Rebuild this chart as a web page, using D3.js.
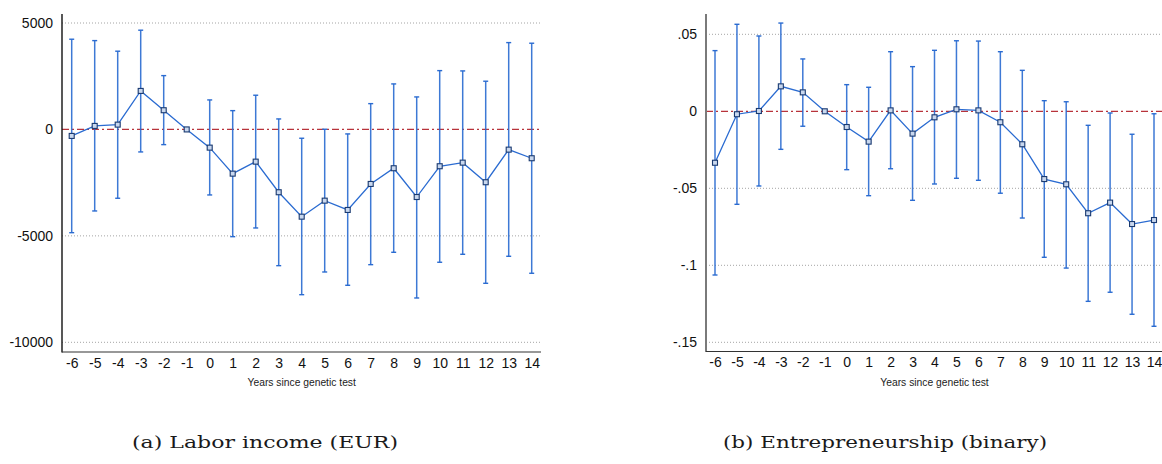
<!DOCTYPE html>
<html>
<head>
<meta charset="utf-8">
<script src="https://cdn.jsdelivr.net/npm/d3@7"></script>
<style>
  body { margin: 0; background: #fff; }
  svg { display: block; }
</style>
</head>
<body>
<div id="chart"></div>
<script>
// event-time years
var years = [-6,-5,-4,-3,-2,-1,0,1,2,3,4,5,6,7,8,9,10,11,12,13,14];

// (a) labor income, EUR
var incomeCoef = [-305,165,226,1809,902,0,-855,-2077,-1513,-2951,-4098,-3346,-3783,-2561,-1823,-3175,-1729,-1560,-2481,-949,-1353];
var incomeLo   = [-4850,-3830,-3233,-1057,-714,null,-3078,-5038,-4629,-6400,-7763,-6697,-7321,-6353,-5771,-7918,-6240,-5865,-7228,-5959,-6757];
var incomeHi   = [4238,4173,3675,4662,2528,null,1386,883,1607,493,-414,9,-211,1212,2138,1527,2763,2749,2265,4079,4050];
var incomeTicks = [5000, 0, -5000, -10000];

// (b) entrepreneurship, binary
var entreCoef = [-0.0334,-0.0019,0.0002,0.0162,0.0123,0,-0.0102,-0.0197,0.0006,-0.0145,-0.0039,0.0013,0.0006,-0.0071,-0.0214,-0.044,-0.0474,-0.0662,-0.0593,-0.0732,-0.0706];
var entreLo   = [-0.1063,-0.0604,-0.0485,-0.0247,-0.0097,null,-0.0379,-0.0548,-0.0373,-0.0578,-0.0472,-0.0435,-0.0448,-0.0532,-0.0693,-0.0948,-0.1018,-0.1234,-0.1175,-0.1318,-0.1396];
var entreHi   = [0.0394,0.0565,0.0489,0.0573,0.034,null,0.0173,0.0156,0.0387,0.029,0.0396,0.0458,0.0456,0.0387,0.0266,0.0069,0.0062,-0.0091,-0.0011,-0.0149,-0.0016];
var entreTicks = [0.05, 0, -0.05, -0.1, -0.15];
var entreTickLabels = [".05", "0", "-.05", "-.1", "-.15"];

var xTitle = "Years since genetic test";
var captions = ["(a) Labor income (EUR)", "(b) Entrepreneurship (binary)"];

var W = 1162, H = 464;
var svg = d3.select("#chart").append("svg")
    .attr("width", W)
    .attr("height", H);

var blue = "#2a6bd1", navy = "#1a3a70";
var sans = "Liberation Sans, Arial, sans-serif";

function drawPanel(opt) {
  var x = d3.scaleLinear().domain([-6, 14]).range(opt.xRange);
  var y = d3.scaleLinear().domain(opt.yDomain).range(opt.yRange);
  var g = svg.append("g");
  var rows = years.map(function(yr, i) {
    return {year: yr, coef: opt.coef[i], lo: opt.lo[i], hi: opt.hi[i]};
  });

  // dotted gridlines
  g.selectAll(".grid").data(opt.ticks.filter(function(t) { return t != 0; }))
    .enter().append("line")
      .attr("x1", opt.axisX).attr("x2", opt.rightEdge)
      .attr("y1", function(d) { return y(d); })
      .attr("y2", function(d) { return y(d); })
      .attr("stroke", "#9a9a9a")
      .attr("stroke-width", 0.9)
      .attr("stroke-dasharray", "1,2");

  // zero reference line
  g.append("line")
    .attr("x1", opt.axisX).attr("x2", opt.rightEdge)
    .attr("y1", y(0)).attr("y2", y(0))
    .attr("stroke", "#b8333b")
    .attr("stroke-width", 1.2)
    .attr("stroke-dasharray", "7,3,2,3");

  // y axis labels
  var yAxis = d3.axisLeft(y).tickValues(opt.ticks).tickSize(0).tickPadding(9)
    .tickFormat(function(d, i) { return opt.tickLabels[i]; });
  var ya = g.append("g")
    .attr("transform", "translate(" + opt.axisX + ",0)")
    .call(yAxis);
  ya.select(".domain").remove();
  ya.selectAll("text")
    .attr("font-family", sans)
    .attr("font-size", 14)
    .attr("fill", "#111");

  // x axis labels
  var xAxis = d3.axisBottom(x).tickValues(years).tickSize(0).tickPadding(6)
    .tickFormat(function(d) { return String(d); });
  var xa = g.append("g")
    .attr("transform", "translate(0," + opt.axisY + ")")
    .call(xAxis);
  xa.select(".domain").remove();
  xa.selectAll("text")
    .attr("font-family", sans)
    .attr("font-size", 14)
    .attr("fill", "#111");

  // axis lines
  g.append("line")
    .attr("x1", opt.axisX).attr("x2", opt.axisX)
    .attr("y1", 14).attr("y2", opt.axisY + 0.5)
    .attr("stroke", opt.yAxisColor)
    .attr("stroke-width", opt.yAxisWidth);
  g.append("line")
    .attr("x1", opt.axisX).attr("x2", opt.rightEdge)
    .attr("y1", opt.axisY).attr("y2", opt.axisY)
    .attr("stroke", "#333")
    .attr("stroke-width", 1.1);

  g.append("text")
    .attr("x", (x(-6) + x(14)) / 2)
    .attr("y", opt.axisY + 34)
    .attr("text-anchor", "middle")
    .attr("font-family", sans)
    .attr("font-size", 10.3)
    .attr("fill", "#222")
    .text(xTitle);

  // confidence intervals
  var ci = rows.filter(function(d) { return d.lo != null; });
  g.selectAll(".bar").data(ci).enter().append("line")
    .attr("x1", function(d) { return x(d.year); })
    .attr("x2", function(d) { return x(d.year); })
    .attr("y1", function(d) { return y(d.lo); })
    .attr("y2", function(d) { return y(d.hi); })
    .attr("stroke", blue).attr("stroke-width", 1.5).attr("opacity", 0.9);
  ["lo", "hi"].forEach(function(k) {
    g.selectAll(".cap" + k).data(ci).enter().append("line")
      .attr("x1", function(d) { return x(d.year) - 2.5; })
      .attr("x2", function(d) { return x(d.year) + 2.5; })
      .attr("y1", function(d) { return y(d[k]); })
      .attr("y2", function(d) { return y(d[k]); })
      .attr("stroke", blue).attr("stroke-width", 1.4);
  });

  // point estimates
  g.append("path")
    .datum(rows)
    .attr("fill", "none")
    .attr("stroke", blue)
    .attr("stroke-width", 1.3)
    .attr("d", d3.line()
      .x(function(d) { return x(d.year); })
      .y(function(d) { return y(d.coef); }));
  g.selectAll(".pt").data(rows).enter().append("rect")
    .attr("x", function(d) { return x(d.year) - 2.5; })
    .attr("y", function(d) { return y(d.coef) - 2.5; })
    .attr("width", 5).attr("height", 5)
    .attr("fill", "#c9d8ef")
    .attr("stroke", navy)
    .attr("stroke-width", 1.1);

  svg.append("text")
    .attr("x", opt.captionX)
    .attr("y", 448)
    .attr("text-anchor", "middle")
    .attr("font-family", "DejaVu Serif, Liberation Serif, serif")
    .attr("font-size", 16.5)
    .attr("textLength", opt.captionW)
    .attr("lengthAdjust", "spacingAndGlyphs")
    .attr("fill", "#1a1a1a")
    .text(opt.caption);
}

drawPanel({
  coef: incomeCoef, lo: incomeLo, hi: incomeHi,
  ticks: incomeTicks, tickLabels: incomeTicks.map(String),
  yDomain: [-10000, 5000], yRange: [342.3, 23],
  xRange: [71.7, 531.7], axisX: 62, axisY: 352, rightEdge: 541,
  yAxisColor: "#111", yAxisWidth: 1.4,
  caption: captions[0], captionX: 265, captionW: 266
});

drawPanel({
  coef: entreCoef, lo: entreLo, hi: entreHi,
  ticks: entreTicks, tickLabels: entreTickLabels,
  yDomain: [-0.15, 0.05], yRange: [342.3, 34.3],
  xRange: [715, 1154], axisX: 706, axisY: 351.5, rightEdge: 1162,
  yAxisColor: "#7a7a7a", yAxisWidth: 2,
  caption: captions[1], captionX: 885, captionW: 324
});
</script>
</body>
</html>
